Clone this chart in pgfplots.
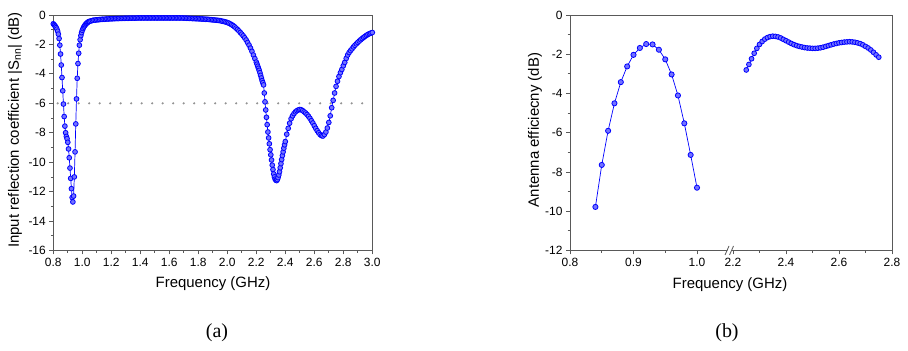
\documentclass[border=0pt]{standalone}
\usepackage{fontspec}
\setmainfont{Liberation Sans}
\newfontfamily\timesfont{Liberation Serif}
\usepackage{pgfplots}
\usepackage{pgfplotstable}
\pgfplotsset{compat=1.18}

\pgfplotstableread{
f s
0.800 -0.60
0.805 -0.66
0.810 -0.72
0.815 -0.78
0.820 -0.86
0.825 -0.96
0.830 -1.10
0.835 -1.30
0.840 -1.60
0.845 -2.05
0.850 -2.65
0.855 -3.40
0.860 -4.25
0.865 -5.15
0.870 -6.05
0.875 -6.90
0.880 -7.55
0.885 -8.00
0.890 -8.25
0.895 -8.40
0.900 -8.65
0.905 -9.10
0.910 -9.70
0.915 -10.40
0.920 -11.10
0.925 -11.80
0.930 -12.40
0.935 -12.70
0.940 -12.30
0.945 -11.00
0.950 -9.30
0.955 -7.40
0.960 -5.70
0.965 -4.30
0.970 -3.30
0.975 -2.60
0.980 -2.05
0.985 -1.68
0.990 -1.40
0.995 -1.20
1.000 -1.04
1.005 -0.92
1.010 -0.82
1.015 -0.74
1.020 -0.67
1.025 -0.61
1.030 -0.56
1.035 -0.52
1.040 -0.48
1.045 -0.45
1.050 -0.43
1.06 -0.40
1.07 -0.37
1.08 -0.35
1.09 -0.34
1.10 -0.33
1.11 -0.32
1.12 -0.31
1.13 -0.30
1.14 -0.29
1.15 -0.29
1.16 -0.28
1.17 -0.27
1.18 -0.27
1.19 -0.26
1.20 -0.26
1.21 -0.25
1.22 -0.25
1.23 -0.24
1.24 -0.24
1.25 -0.24
1.26 -0.23
1.27 -0.23
1.28 -0.23
1.29 -0.22
1.30 -0.22
1.31 -0.22
1.32 -0.22
1.33 -0.21
1.34 -0.21
1.35 -0.21
1.36 -0.21
1.37 -0.21
1.38 -0.20
1.39 -0.20
1.40 -0.20
1.41 -0.20
1.42 -0.20
1.43 -0.20
1.44 -0.20
1.45 -0.20
1.46 -0.20
1.47 -0.20
1.48 -0.20
1.49 -0.20
1.50 -0.20
1.51 -0.20
1.52 -0.20
1.53 -0.20
1.54 -0.20
1.55 -0.20
1.56 -0.20
1.57 -0.20
1.58 -0.20
1.59 -0.20
1.60 -0.20
1.61 -0.20
1.62 -0.20
1.63 -0.20
1.64 -0.20
1.65 -0.20
1.66 -0.20
1.67 -0.20
1.68 -0.20
1.69 -0.20
1.70 -0.21
1.71 -0.21
1.72 -0.22
1.73 -0.22
1.74 -0.23
1.75 -0.23
1.76 -0.24
1.77 -0.24
1.78 -0.25
1.79 -0.25
1.80 -0.26
1.81 -0.26
1.82 -0.27
1.83 -0.27
1.84 -0.28
1.85 -0.29
1.86 -0.29
1.87 -0.30
1.88 -0.31
1.89 -0.32
1.90 -0.33
1.91 -0.34
1.92 -0.35
1.93 -0.36
1.94 -0.37
1.95 -0.38
1.96 -0.41
1.97 -0.43
1.98 -0.45
1.99 -0.48
2.000 -0.51
2.010 -0.55
2.020 -0.60
2.030 -0.66
2.040 -0.72
2.050 -0.80
2.060 -0.89
2.070 -0.98
2.080 -1.08
2.090 -1.19
2.100 -1.30
2.110 -1.42
2.120 -1.55
2.130 -1.70
2.140 -1.87
2.150 -2.05
2.160 -2.25
2.170 -2.47
2.180 -2.72
2.190 -2.96
2.200 -3.20
2.205 -3.34
2.210 -3.48
2.215 -3.62
2.220 -3.76
2.225 -3.92
2.230 -4.10
2.235 -4.28
2.240 -4.46
2.245 -4.60
2.250 -4.75
2.255 -5.30
2.260 -5.90
2.265 -6.45
2.270 -6.95
2.275 -7.45
2.280 -7.95
2.285 -8.35
2.290 -8.75
2.295 -9.15
2.300 -9.50
2.305 -9.85
2.310 -10.20
2.315 -10.50
2.320 -10.80
2.325 -11.00
2.330 -11.15
2.335 -11.22
2.340 -11.25
2.345 -11.18
2.350 -11.05
2.355 -10.87
2.360 -10.65
2.365 -10.38
2.370 -10.10
2.375 -9.82
2.380 -9.55
2.385 -9.30
2.390 -9.05
2.395 -8.82
2.400 -8.60
2.410 -8.10
2.420 -7.70
2.430 -7.35
2.440 -7.05
2.450 -6.85
2.460 -6.70
2.470 -6.58
2.480 -6.50
2.490 -6.45
2.500 -6.42
2.510 -6.44
2.520 -6.50
2.530 -6.58
2.540 -6.66
2.550 -6.76
2.560 -6.88
2.570 -7.02
2.580 -7.18
2.590 -7.34
2.600 -7.52
2.610 -7.70
2.620 -7.86
2.630 -8.00
2.640 -8.12
2.650 -8.20
2.660 -8.22
2.670 -8.12
2.680 -7.95
2.690 -7.68
2.700 -7.30
2.710 -6.85
2.720 -6.30
2.730 -5.80
2.740 -5.30
2.750 -4.85
2.760 -4.50
2.770 -4.18
2.780 -3.92
2.790 -3.70
2.800 -3.45
2.810 -3.22
2.820 -2.95
2.830 -2.72
2.840 -2.55
2.850 -2.42
2.860 -2.30
2.870 -2.17
2.880 -2.06
2.890 -1.96
2.900 -1.86
2.910 -1.77
2.920 -1.68
2.930 -1.60
2.940 -1.52
2.950 -1.45
2.960 -1.38
2.970 -1.32
2.980 -1.27
2.990 -1.23
3.000 -1.19
}\snn

\pgfplotstableread{
f e
0.84 -9.78
0.85 -7.64
0.86 -5.90
0.87 -4.50
0.88 -3.42
0.89 -2.62
0.90 -2.03
0.91 -1.68
0.92 -1.48
0.93 -1.50
0.94 -1.77
0.95 -2.26
0.96 -3.03
0.97 -4.10
0.98 -5.52
0.99 -7.13
1.00 -8.80
}\effA

\pgfplotstableread{
f e
2.25 -2.80
2.26 -2.52
2.27 -2.23
2.28 -1.95
2.29 -1.70
2.30 -1.50
2.31 -1.35
2.32 -1.23
2.33 -1.15
2.34 -1.10
2.35 -1.08
2.36 -1.09
2.37 -1.12
2.38 -1.17
2.39 -1.24
2.40 -1.31
2.41 -1.38
2.42 -1.45
2.43 -1.51
2.44 -1.56
2.45 -1.60
2.46 -1.63
2.47 -1.66
2.48 -1.68
2.49 -1.69
2.50 -1.70
2.51 -1.70
2.52 -1.69
2.53 -1.67
2.54 -1.64
2.55 -1.60
2.56 -1.56
2.57 -1.52
2.58 -1.48
2.59 -1.45
2.60 -1.42
2.61 -1.40
2.62 -1.38
2.63 -1.37
2.64 -1.36
2.65 -1.37
2.66 -1.39
2.67 -1.42
2.68 -1.46
2.69 -1.52
2.70 -1.60
2.71 -1.68
2.72 -1.78
2.73 -1.90
2.74 -2.03
2.75 -2.15
}\effB

\definecolor{framecol}{gray}{0.35}

\pgfplotsset{
  common/.style={
    scale only axis, anchor=south west, clip=false,
    axis line style={framecol, line width=0.8bp},
    every tick/.style={framecol, line width=0.8bp},
    tick align=outside,
    major tick length=4bp, minor tick length=2.5bp,
    tick label style={font=\fontsize{12}{14}\selectfont},
    /pgf/number format/assume math mode=true,
    xticklabel style={/pgf/number format/.cd, fixed, fixed zerofill, precision=1},
    yticklabel style={/pgf/number format/.cd, fixed, precision=0},
  },
  datastyle/.style={blue, line width=0.7bp, mark=*, mark size=2.4bp,
    mark options={fill=blue!55, draw=blue, line width=0.8bp}},
}

\begin{document}
\begin{tikzpicture}
\useasboundingbox (0bp,0bp) rectangle (908bp,351bp);

% ---------- (a) ----------
\begin{axis}[common, at={(53.3bp,100.5bp)}, width=319bp, height=235.5bp,
  xmin=0.8, xmax=3.0, ymin=-16, ymax=0,
  tick pos=left,
  xtick={0.8,1.0,1.2,1.4,1.6,1.8,2.0,2.2,2.4,2.6,2.8,3.0},
  minor xtick={0.9,1.1,1.3,1.5,1.7,1.9,2.1,2.3,2.5,2.7,2.9},
  ytick={-16,-14,-12,-10,-8,-6,-4,-2,0},
  minor ytick={-15,-13,-11,-9,-7,-5,-3,-1}]
\addplot[gray!85, line width=2.4bp, line cap=round, dash pattern=on 0bp off 10.5bp]
  coordinates {(0.83,-6) (3.0,-6)};
\addplot[datastyle] table[x=f, y=s] {\snn};
\end{axis}

% ---------- (b) left segment ----------
\begin{axis}[common, at={(570bp,100.5bp)}, width=163bp, height=235.5bp,
  xmin=0.8, xmax=1.0567, ymin=-12, ymax=0,
  axis x line=box, axis y line=left,
  axis line style={-}, every outer x axis line/.append style={-},
  every outer y axis line/.append style={-},
  every inner x axis line/.append style={-},
  every inner y axis line/.append style={-},
  xtick pos=left, ytick pos=left, tick align=outside,
  xtick={0.8,0.9,1.0}, minor xtick={0.85,0.95},
  ytick={-12,-10,-8,-6,-4,-2,0}, minor ytick={-11,-9,-7,-5,-3,-1}]
\addplot[datastyle, mark size=2.6bp] table[x=f, y=e] {\effA};
\end{axis}

% ---------- (b) right segment ----------
\begin{axis}[common, at={(733bp,100.5bp)}, width=159bp, height=235.5bp,
  xmin=2.2, xmax=2.8, ymin=-12, ymax=0,
  axis x line=box, axis y line=right,
  axis line style={-}, every outer x axis line/.append style={-},
  every outer y axis line/.append style={-},
  every inner x axis line/.append style={-},
  every inner y axis line/.append style={-},
  xtick pos=left, tick align=outside,
  ytick=\empty,
  xtick={2.2,2.4,2.6,2.8}, minor xtick={2.3,2.5,2.7}]
\addplot[datastyle, mark size=2.4bp] table[x=f, y=e] {\effB};
\end{axis}

% axis break marks
\fill[white] (725.5bp,96bp) -- (729.5bp,96bp) -- (733.5bp,105bp) -- (729.5bp,105bp) -- cycle;
\draw[framecol, line width=0.8bp] (725bp,96bp) -- (729bp,105bp);
\draw[framecol, line width=0.8bp] (729.5bp,96bp) -- (733.5bp,105bp);

% labels
\node[rotate=90, font=\fontsize{15}{18}\selectfont] at (15bp,221bp)
  {Input reflection coefficient |S\textsubscript{nn}| (dB)};
\node[font=\fontsize{15}{18}\selectfont] at (213bp,67bp) {Frequency (GHz)};
\node[rotate=90, font=\fontsize{15}{18}\selectfont] at (535bp,221bp)
  {Antenna efficiecny (dB)};
\node[font=\fontsize{15}{18}\selectfont] at (730bp,66bp) {Frequency (GHz)};
\node[font=\timesfont\fontsize{20}{24}\selectfont] at (217bp,18bp) {(a)};
\node[font=\timesfont\fontsize{20}{24}\selectfont] at (727bp,18bp) {(b)};
\end{tikzpicture}
\end{document}
